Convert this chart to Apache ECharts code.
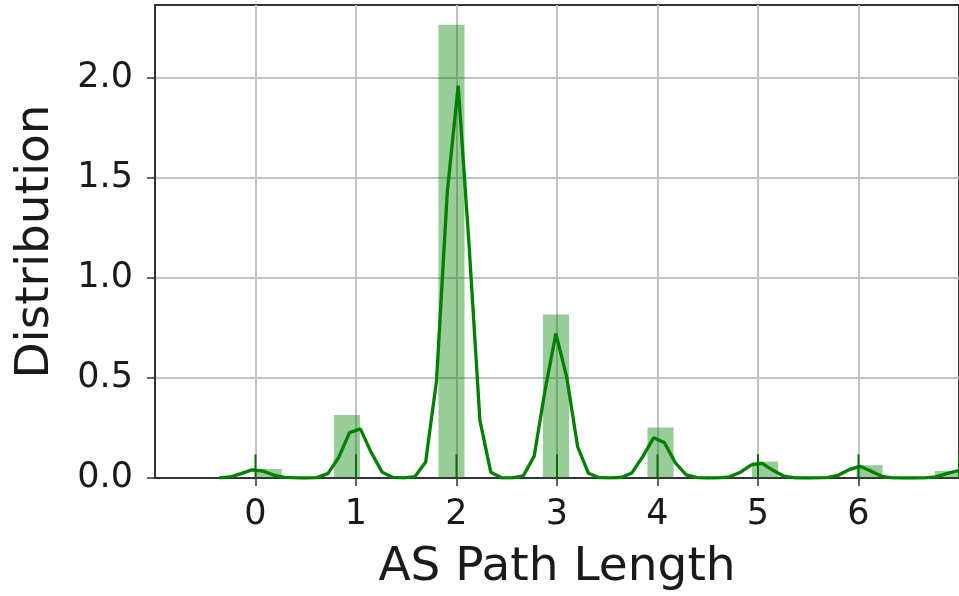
<!DOCTYPE html>
<html>
<head>
    <meta charset="utf-8" />
    <title>AS Path Length</title>
    <script src="https://cdn.jsdelivr.net/npm/echarts@6/dist/echarts.min.js"></script>
    <style>
        html, body { margin: 0; padding: 0; background: #fff; }
        #main { width: 959px; height: 596px; }
    </style>
</head>
<body>
<div id="main"></div>
<script>
// histogram (density), bins of width 0.26 starting at 0
var binWidth = 0.26;
var binStarts = [0, 0.78, 1.82, 2.86, 3.90, 4.94, 5.98, 6.76];
var binHeights = [0.045, 0.315, 2.264, 0.817, 0.252, 0.082, 0.064, 0.035];

// kde curve
var kdeX = [-0.360, -0.252, -0.144, -0.036, 0.072, 0.180, 0.288, 0.396, 0.504, 0.612,
    0.720, 0.828, 0.936, 1.044, 1.152, 1.260, 1.368, 1.477, 1.585, 1.693,
    1.801, 1.909, 2.017, 2.125, 2.233, 2.341, 2.449, 2.557, 2.665, 2.773,
    2.881, 2.989, 3.097, 3.205, 3.313, 3.421, 3.529, 3.637, 3.745, 3.853,
    3.961, 4.069, 4.177, 4.285, 4.393, 4.501, 4.609, 4.717, 4.826, 4.934,
    5.042, 5.150, 5.258, 5.366, 5.474, 5.582, 5.690, 5.798, 5.906, 6.014,
    6.122, 6.230, 6.338, 6.446, 6.554, 6.662, 6.770, 6.878, 6.986, 7.094];
var kdeY = [0.0005, 0.0052, 0.0219, 0.0404, 0.0347, 0.0146, 0.0030, 0.0003, 0.0001, 0.0021,
    0.0219, 0.1026, 0.2266, 0.2454, 0.1269, 0.0293, 0.0029, 0.0003, 0.0064, 0.0802,
    0.4852, 1.4332, 1.9606, 1.1647, 0.2878, 0.0290, 0.0012, 0.0005, 0.0111, 0.1094,
    0.4384, 0.7217, 0.5033, 0.1570, 0.0234, 0.0017, 0.0002, 0.0025, 0.0252, 0.1071,
    0.2006, 0.1767, 0.0763, 0.0158, 0.0015, 0.0001, 0.0006, 0.0061, 0.0291, 0.0658,
    0.0730, 0.0384, 0.0090, 0.0009, 0.0000, 0.0002, 0.0021, 0.0135, 0.0415, 0.0582,
    0.0350, 0.0087, 0.0009, 0.0000, 0.0000, 0.0005, 0.0054, 0.0217, 0.0362, 0.0259];

// rug: observed path lengths
var rugValues = [0, 1, 2, 3, 4, 5, 6, 7];

var xTicks = [0, 1, 2, 3, 4, 5, 6];
var yTicks = [0, 0.5, 1.0, 1.5, 2.0];

var myChart = echarts.init(document.getElementById('main'));

var barData = [];
for (var i = 0; i < binStarts.length; i++) {
    barData.push([binStarts[i], binStarts[i] + binWidth, binHeights[i]]);
}
var kdeData = [];
for (var i = 0; i < kdeX.length; i++) {
    kdeData.push([kdeX[i], kdeY[i]]);
}

var font = 'DejaVu Sans';

var option = {
    backgroundColor: '#fff',
    animation: false,
    grid: {
        left: 155, top: 5, bottom: 116, right: -7,
        show: true, borderColor: '#333', borderWidth: 2
    },
    xAxis: {
        type: 'value', min: -1, max: 7, interval: 1,
        name: 'AS Path Length', nameLocation: 'middle', nameGap: 66,
        nameTextStyle: { fontFamily: font, fontSize: 47, color: '#1a1a1a' },
        axisLine: { show: true, onZero: false, lineStyle: { color: '#333', width: 2 } },
        axisTick: { show: true, length: 8, customValues: xTicks, lineStyle: { color: '#333', width: 1.5 } },
        axisLabel: { customValues: xTicks, margin: 19, fontFamily: font, fontSize: 35, color: '#1a1a1a' },
        splitLine: { show: true, lineStyle: { color: '#c2c2c2', width: 2 } }
    },
    yAxis: {
        type: 'value', min: 0, max: 2.363, interval: 0.5,
        name: 'Distribution', nameLocation: 'middle', nameGap: 96, nameRotate: 90,
        nameTextStyle: { fontFamily: font, fontSize: 47, color: '#1a1a1a' },
        axisLine: { show: true, onZero: false, lineStyle: { color: '#333', width: 2 } },
        axisTick: { show: true, length: 8, customValues: yTicks, lineStyle: { color: '#333', width: 1.5 } },
        axisLabel: {
            customValues: yTicks, margin: 22, fontFamily: font, fontSize: 35, color: '#1a1a1a',
            formatter: function (v) { return v.toFixed(1); }
        },
        splitLine: { show: true, lineStyle: { color: '#c2c2c2', width: 2 } }
    },
    series: [
        {
            type: 'custom',
            name: 'hist',
            clip: true,
            renderItem: function (params, api) {
                var p0 = api.coord([api.value(0), api.value(2)]);
                var p1 = api.coord([api.value(1), 0]);
                return {
                    type: 'rect',
                    shape: { x: p0[0], y: p0[1], width: p1[0] - p0[0], height: p1[1] - p0[1] },
                    style: { fill: 'rgba(0,128,0,0.4)' }
                };
            },
            encode: { x: [0, 1], y: 2 },
            data: barData,
            z: 2
        },
        {
            type: 'line',
            name: 'kde',
            data: kdeData,
            showSymbol: false,
            symbol: 'none',
            lineStyle: { color: '#008000', width: 3.3 },
            z: 3
        },
        {
            type: 'custom',
            name: 'rug',
            clip: true,
            renderItem: function (params, api) {
                var p = api.coord([api.value(0), 0]);
                var h = params.coordSys.height * 0.05;
                return {
                    type: 'line',
                    shape: { x1: p[0], y1: p[1], x2: p[0], y2: p[1] - h },
                    style: { stroke: '#0d6a0d', lineWidth: 2 }
                };
            },
            encode: { x: 0 },
            data: rugValues.map(function (v) { return [v]; }),
            z: 4
        }
    ]
};
myChart.setOption(option);
</script>
</body>
</html>
